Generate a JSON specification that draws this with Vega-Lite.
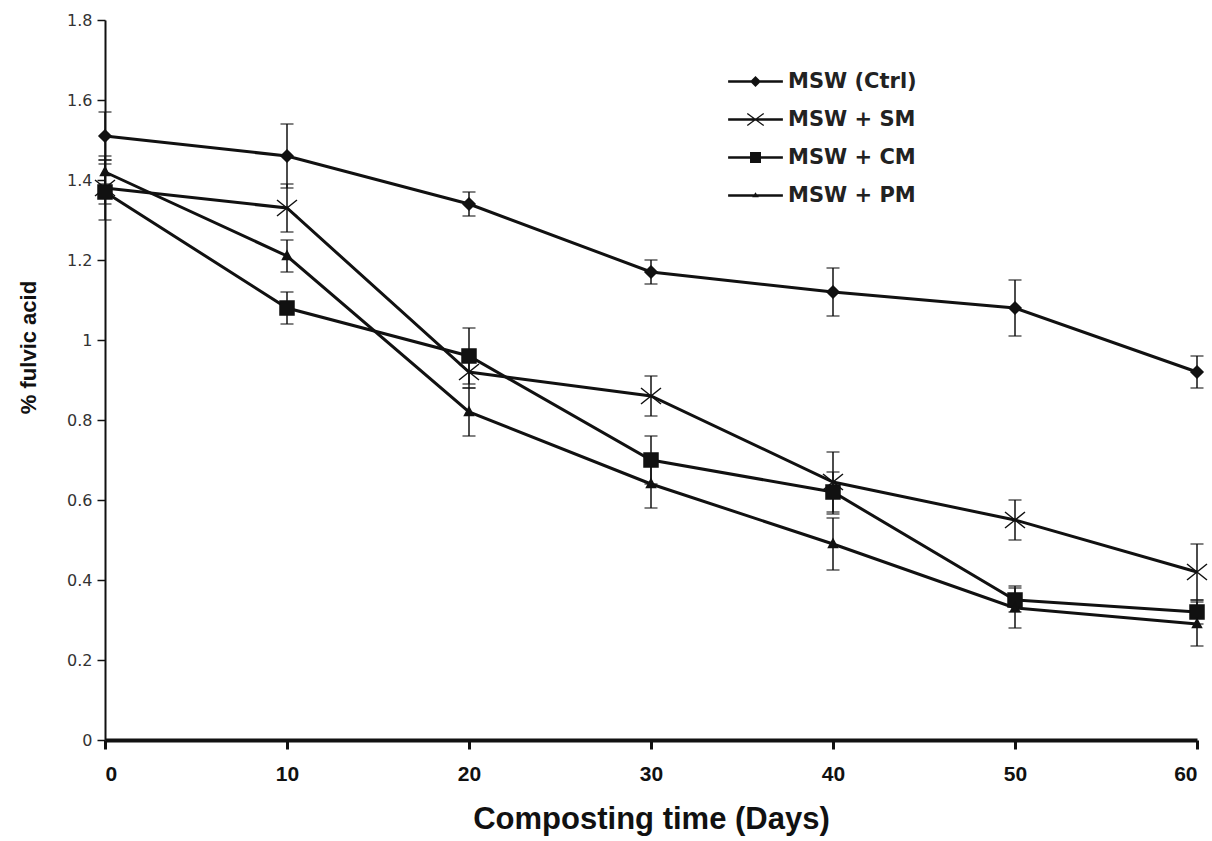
{
  "$schema": "https://vega.github.io/schema/vega-lite/v6.json",
  "width": 1092,
  "height": 720,
  "autosize": {"type": "none"},
  "padding": {"left": 105, "top": 20, "right": 15, "bottom": 101},
  "background": "white",
  "config": {"view": {"stroke": null}},
  "data": {
    "values": [
      {"series": "MSW (Ctrl)", "day": 0, "v": 1.51, "lo": 1.45, "hi": 1.57},
      {"series": "MSW (Ctrl)", "day": 10, "v": 1.46, "lo": 1.38, "hi": 1.54},
      {"series": "MSW (Ctrl)", "day": 20, "v": 1.34, "lo": 1.31, "hi": 1.37},
      {"series": "MSW (Ctrl)", "day": 30, "v": 1.17, "lo": 1.14, "hi": 1.2},
      {"series": "MSW (Ctrl)", "day": 40, "v": 1.12, "lo": 1.06, "hi": 1.18},
      {"series": "MSW (Ctrl)", "day": 50, "v": 1.08, "lo": 1.01, "hi": 1.15},
      {"series": "MSW (Ctrl)", "day": 60, "v": 0.92, "lo": 0.88, "hi": 0.96},
      {"series": "MSW + SM", "day": 0, "v": 1.38, "lo": 1.34, "hi": 1.46},
      {"series": "MSW + SM", "day": 10, "v": 1.33, "lo": 1.27, "hi": 1.39},
      {"series": "MSW + SM", "day": 20, "v": 0.92, "lo": 0.88, "hi": 0.96},
      {"series": "MSW + SM", "day": 30, "v": 0.86, "lo": 0.81, "hi": 0.91},
      {"series": "MSW + SM", "day": 40, "v": 0.645, "lo": 0.57, "hi": 0.72},
      {"series": "MSW + SM", "day": 50, "v": 0.55, "lo": 0.5, "hi": 0.6},
      {"series": "MSW + SM", "day": 60, "v": 0.42, "lo": 0.35, "hi": 0.49},
      {"series": "MSW + CM", "day": 0, "v": 1.37, "lo": 1.3, "hi": 1.44},
      {"series": "MSW + CM", "day": 10, "v": 1.08, "lo": 1.04, "hi": 1.12},
      {"series": "MSW + CM", "day": 20, "v": 0.96, "lo": 0.89, "hi": 1.03},
      {"series": "MSW + CM", "day": 30, "v": 0.7, "lo": 0.64, "hi": 0.76},
      {"series": "MSW + CM", "day": 40, "v": 0.62, "lo": 0.565, "hi": 0.67},
      {"series": "MSW + CM", "day": 50, "v": 0.35, "lo": 0.32, "hi": 0.385},
      {"series": "MSW + CM", "day": 60, "v": 0.32, "lo": 0.29, "hi": 0.35},
      {"series": "MSW + PM", "day": 0, "v": 1.42, "lo": 1.39, "hi": 1.45},
      {"series": "MSW + PM", "day": 10, "v": 1.21, "lo": 1.17, "hi": 1.25},
      {"series": "MSW + PM", "day": 20, "v": 0.82, "lo": 0.76, "hi": 0.88},
      {"series": "MSW + PM", "day": 30, "v": 0.64, "lo": 0.58, "hi": 0.7},
      {"series": "MSW + PM", "day": 40, "v": 0.49, "lo": 0.425, "hi": 0.555},
      {"series": "MSW + PM", "day": 50, "v": 0.33, "lo": 0.28, "hi": 0.38},
      {"series": "MSW + PM", "day": 60, "v": 0.29, "lo": 0.235, "hi": 0.345}
    ]
  },
  "encoding": {
    "x": {
      "field": "day", "type": "quantitative",
      "scale": {"domain": [0, 60], "nice": false, "zero": false},
      "axis": {
        "values": [0, 10, 20, 30, 40, 50, 60],
        "title": "Composting time (Days)",
        "titleFont": "Liberation Sans", "titleFontSize": 31, "titleFontWeight": "bold", "titleColor": "#111",
        "titlePadding": 20,
        "labelFont": "Liberation Sans", "labelFontSize": 21, "labelFontWeight": "bold", "labelColor": "#111",
        "labelPadding": 14,
        "domainColor": "#111", "domainWidth": 4,
        "tickColor": "#111", "tickWidth": 3, "tickSize": 9,
        "grid": false
      }
    }
  },
  "layer": [
    {
      "mark": {"type": "rule", "color": "#111", "strokeWidth": 1.5},
      "encoding": {
        "y": {
          "field": "lo", "type": "quantitative",
          "scale": {"domain": [0, 1.8], "nice": false},
          "axis": {
            "values": [0, 0.2, 0.4, 0.6, 0.8, 1, 1.2, 1.4, 1.6, 1.8],
            "format": ".1~f",
            "title": "% fulvic acid",
            "titleFont": "Liberation Sans", "titleFontSize": 22, "titleFontWeight": "bold", "titleColor": "#111",
            "titlePadding": 26,
            "titleY": 327,
            "labelFont": "DejaVu Sans", "labelFontSize": 16, "labelColor": "#333",
            "labelPadding": 5,
            "domainColor": "#111", "domainWidth": 2,
            "tickColor": "#111", "tickWidth": 1.5, "tickSize": 8,
            "grid": false
          }
        },
        "y2": {"field": "hi"}
      }
    },
    {
      "mark": {"type": "tick", "orient": "horizontal", "color": "#111", "size": 13, "thickness": 1.5},
      "encoding": {"y": {"field": "lo", "type": "quantitative"}}
    },
    {
      "mark": {"type": "tick", "orient": "horizontal", "color": "#111", "size": 13, "thickness": 1.5},
      "encoding": {"y": {"field": "hi", "type": "quantitative"}}
    },
    {
      "mark": {"type": "line", "color": "#111", "strokeWidth": 3},
      "encoding": {
        "y": {"field": "v", "type": "quantitative"},
        "detail": {"field": "series"}
      }
    },
    {
      "mark": {"type": "point", "filled": true, "color": "#111", "stroke": "#111", "strokeWidth": 1.5, "opacity": 1, "size": 400},
      "encoding": {
        "y": {"field": "v", "type": "quantitative"},
        "shape": {
          "field": "series", "type": "nominal",
          "scale": {
            "domain": ["MSW (Ctrl)", "MSW + SM", "MSW + CM", "MSW + PM"],
            "range": [
              "M0,-0.6L0.6,0L0,0.6L-0.6,0Z",
              "M-1,-0.8L1,0.8M-1,0.8L1,-0.8",
              "M-0.7,-0.7H0.7V0.7H-0.7Z",
              "M0,-0.5L0.45,0.35H-0.45Z"
            ]
          },
          "legend": null
        }
      }
    },
    {
      "transform": [{"filter": "datum.day < 0"}],
      "mark": {"type": "point", "filled": true, "color": "#111", "opacity": 1, "size": 3000},
      "encoding": {
        "y": {"field": "v", "type": "quantitative"},
        "shape": {
          "field": "series", "type": "nominal",
          "scale": {
            "domain": ["MSW (Ctrl)", "MSW + SM", "MSW + CM", "MSW + PM"],
            "range": [
              "M-1,-0.05H1V0.05H-1ZM0,-0.2L0.2,0L0,0.2L-0.2,0Z",
              "M-1,-0.05H1V0.05H-1ZM-0.285,-0.24L0.315,0.2L0.285,0.24L-0.315,-0.2ZM-0.315,0.2L0.285,-0.24L0.315,-0.2L-0.285,0.24Z",
              "M-1,-0.05H1V0.05H-1ZM-0.2,-0.2H0.2V0.2H-0.2Z",
              "M-1,-0.05H1V0.05H-1ZM0,-0.12L0.12,0.06H-0.12Z"
            ]
          },
          "legend": {
            "orient": "none",
            "legendX": 623,
            "legendY": 34,
            "title": null,
            "symbolSize": 3000,
            "symbolStrokeWidth": 0,
            "symbolFillColor": "#111",
            "labelFont": "DejaVu Sans",
            "labelFontSize": 21,
            "labelFontWeight": "bold",
            "labelColor": "#222",
            "labelOffset": 5,
            "rowPadding": -14,
            "encode": {
              "symbols": {
                "update": {
                  "fill": {"value": "#111"},
                  "opacity": {"value": 1},
                  "size": {"value": 3000}
                }
              }
            }
          }
        }
      }
    }
  ],
  "resolve": {"scale": {"shape": "independent"}, "legend": {"shape": "independent"}}
}
